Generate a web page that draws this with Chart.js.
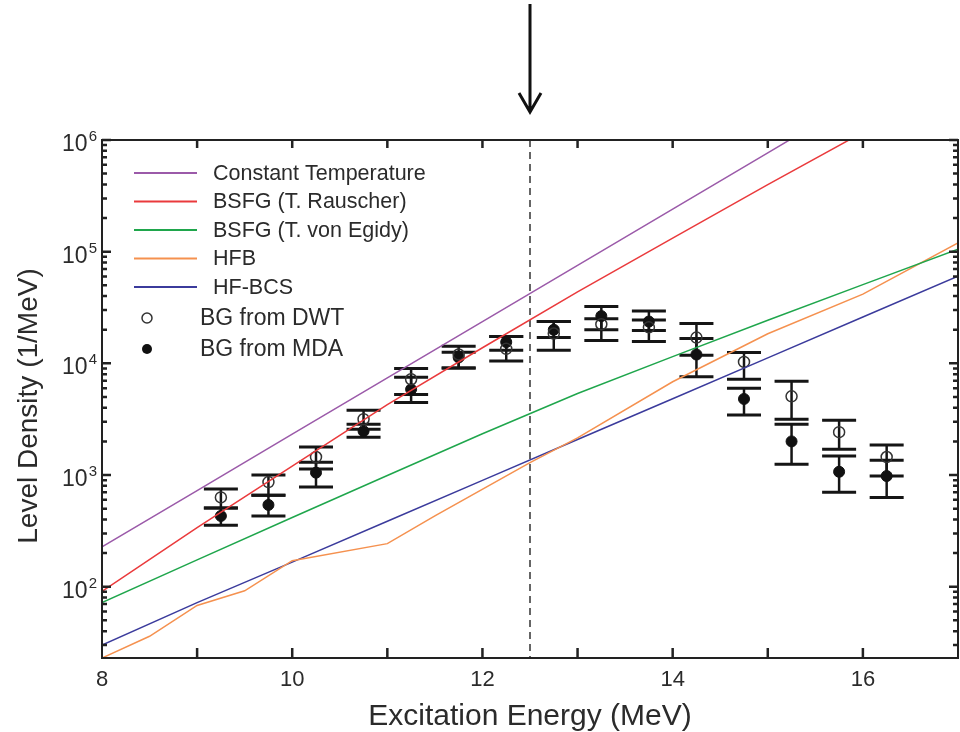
<!DOCTYPE html>
<html>
<head>
<meta charset="utf-8">
<title>Level density</title>
<style>
html, body { margin: 0; padding: 0; background: #fff; }
#wrap { width: 960px; height: 732px; }
</style>
<script src="https://cdn.jsdelivr.net/npm/chart.js@4.4.1/dist/chart.umd.min.js"></script>
</head>
<body>
<div id="wrap"><canvas id="chart-ld" width="960" height="732"></canvas></div>
<script>
// Fonts and colors
const font_family = "'Liberation Sans', Arial, Helvetica, sans-serif"
const color_text = '#2b2b2b'
const color_ct = '#9b5aa9'
const color_rauscher = '#ea3a3c'
const color_egidy = '#1fa64c'
const color_hfb = '#f5914f'
const color_hfbcs = '#3b3b9c'

// Model curves (energy in MeV, level density in 1/MeV)
const model_energy = [8, 9, 10, 11, 12, 13, 14, 15, 16, 17]
const ct_density = [227, 726, 2320, 7400, 23600, 75300, 240000, 767000, 2450000, 7800000]
const rauscher_density = [91, 339, 1200, 4270, 13800, 43600, 132000, 398000, 1170000, 3400000]
const egidy_density = [72, 174, 417, 990, 2340, 5370, 11500, 24300, 50700, 105000]
const hfbcs_density = [30, 72, 166, 386, 895, 2080, 4820, 11200, 26000, 60300]

const hfb_energy = [8, 8.5, 9, 9.5, 10, 11, 11.5, 12.5, 13, 14, 15, 16, 17]
const hfb_density = [23, 36, 68, 92, 171, 243, 430, 1290, 2150, 6840, 18400, 41700, 120000]

// Measured points
const exp_energy = [9.25, 9.75, 10.25, 10.75, 11.25, 11.75, 12.25, 12.75, 13.25, 13.75, 14.25, 14.75, 15.25, 15.75, 16.25]
const dwt = [630, 865, 1450, 3160, 7200, 12000, 13500, 18500, 22400, 21000, 17000, 10300, 5070, 2420, 1450]
const dwt_lo = [507, 660, 1130, 2570, 5250, 9100, 10500, 13100, 16000, 15700, 11800, 7200, 3160, 1700, 980]
const dwt_hi = [750, 1000, 1780, 3800, 9000, 14200, 17400, 23700, 25100, 24500, 22800, 12500, 6900, 3100, 1860]
const mda = [430, 540, 1050, 2470, 5860, 11300, 15500, 20000, 26500, 23700, 12000, 4800, 2000, 1070, 980]
const mda_lo = [355, 430, 780, 2180, 4460, 9100, 13100, 17000, 20000, 19700, 7600, 3440, 1250, 700, 630]
const mda_hi = [507, 660, 1300, 2850, 7500, 12600, 17400, 23700, 32300, 29500, 16700, 6000, 2850, 1480, 1360]

// Axis ticks
const x_ticks = [8, 10, 12, 14, 16]
const y_ticks = [100, 1000, 10000, 100000, 1000000]
const marker_energy = 12.5 // dashed line + arrow

function pairs(xs, ys) {
    return xs.map((x, i) => ({x: x, y: ys[i]}))
}

function curve(label, xs, ys, color) {
    return {
        label: label,
        data: pairs(xs, ys),
        showLine: true,
        borderColor: color,
        backgroundColor: color,
        borderWidth: 1.5,
        pointRadius: 0,
        kind: 'line',
    }
}

const data = {
    datasets: [
        curve('Constant Temperature', model_energy, ct_density, color_ct),
        curve('BSFG (T. Rauscher)', model_energy, rauscher_density, color_rauscher),
        curve('BSFG (T. von Egidy)', model_energy, egidy_density, color_egidy),
        curve('HFB', hfb_energy, hfb_density, color_hfb),
        curve('HF-BCS', model_energy, hfbcs_density, color_hfbcs),
        {
            label: 'BG from DWT',
            data: pairs(exp_energy, dwt),
            err_lo: dwt_lo,
            err_hi: dwt_hi,
            pointRadius: 5.5,
            pointBorderWidth: 1.5,
            borderColor: '#333',
            backgroundColor: 'rgba(255,255,255,0)',
            kind: 'open',
        },
        {
            label: 'BG from MDA',
            data: pairs(exp_energy, mda),
            err_lo: mda_lo,
            err_hi: mda_hi,
            pointRadius: 5.5,
            pointBorderWidth: 1,
            borderColor: '#111',
            backgroundColor: '#111',
            kind: 'filled',
        },
    ]
}

// Error bars, dashed marker line (drawn under the points)
const underlay = {
    id: 'underlay',
    beforeDatasetsDraw(chart) {
        const ctx = chart.ctx
        const xs = chart.scales.x, ys = chart.scales.y
        const area = chart.chartArea
        ctx.save()

        // dashed line
        const xm = xs.getPixelForValue(marker_energy)
        ctx.strokeStyle = '#333'
        ctx.lineWidth = 1.5
        ctx.setLineDash([7, 5])
        ctx.beginPath()
        ctx.moveTo(xm, area.top)
        ctx.lineTo(xm, area.bottom)
        ctx.stroke()
        ctx.setLineDash([])

        // error bars
        ctx.strokeStyle = '#151515'
        chart.data.datasets.forEach(ds => {
            if (!ds.err_lo) return
            ds.data.forEach((p, i) => {
                const x = xs.getPixelForValue(p.x)
                const y1 = ys.getPixelForValue(ds.err_lo[i])
                const y2 = ys.getPixelForValue(ds.err_hi[i])
                ctx.lineWidth = 2.5
                ctx.beginPath()
                ctx.moveTo(x, y1)
                ctx.lineTo(x, y2)
                ctx.stroke()
                ctx.lineWidth = 3
                ctx.beginPath()
                ctx.moveTo(x - 17, y1)
                ctx.lineTo(x + 17, y1)
                ctx.moveTo(x - 17, y2)
                ctx.lineTo(x + 17, y2)
                ctx.stroke()
            })
        })
        ctx.restore()
    }
}

// Frame, inward ticks, y labels, titles, legend and arrow
const overlay = {
    id: 'overlay',
    afterDraw(chart) {
        const ctx = chart.ctx
        const xs = chart.scales.x, ys = chart.scales.y
        const a = chart.chartArea
        ctx.save()

        // frame
        ctx.strokeStyle = '#222'
        ctx.lineWidth = 2
        ctx.strokeRect(a.left, a.top, a.right - a.left, a.bottom - a.top)

        // x ticks (every MeV, bottom and top)
        ctx.lineWidth = 2.5
        ctx.beginPath()
        for (let e = Math.ceil(xs.min) + 1; e < xs.max; e++) {
            const x = xs.getPixelForValue(e)
            ctx.moveTo(x, a.bottom)
            ctx.lineTo(x, a.bottom - 10)
            ctx.moveTo(x, a.top)
            ctx.lineTo(x, a.top + 8)
        }
        ctx.stroke()

        // y ticks (decades long, 2..9 short, left and right)
        ctx.beginPath()
        for (let d = 1; d <= 5; d++) {
            for (let m = 1; m <= 10; m++) {
                const v = m * Math.pow(10, d)
                if (v < ys.min || v > ys.max) continue
                const y = ys.getPixelForValue(v)
                const len = (m === 1 || m === 10) ? 9 : 5
                ctx.moveTo(a.left, y)
                ctx.lineTo(a.left + len, y)
                ctx.moveTo(a.right, y)
                ctx.lineTo(a.right - len, y)
            }
        }
        ctx.stroke()

        // y tick labels 10^n
        ctx.fillStyle = color_text
        ctx.textBaseline = 'alphabetic'
        ctx.textAlign = 'right'
        y_ticks.forEach(v => {
            const y = ys.getPixelForValue(v)
            const ex = String(Math.round(Math.log10(v)))
            ctx.font = '15px ' + font_family
            ctx.fillText(ex, 97, y + 1)
            const w = ctx.measureText(ex).width
            ctx.font = '23px ' + font_family
            ctx.fillText('10', 97 - w - 1, y + 11)
        })

        // axis titles
        ctx.font = '30px ' + font_family
        ctx.textAlign = 'center'
        ctx.fillText('Excitation Energy (MeV)', (a.left + a.right) / 2, 725)
        ctx.font = '28px ' + font_family
        ctx.save()
        ctx.translate(37, 406)
        ctx.rotate(-Math.PI / 2)
        ctx.fillText('Level Density (1/MeV)', 0, 0)
        ctx.restore()

        // legend
        ctx.textAlign = 'left'
        ctx.textBaseline = 'middle'
        let row = 0
        chart.data.datasets.forEach(ds => {
            if (ds.kind === 'line') {
                const y = 173 + row * 28.5
                ctx.strokeStyle = ds.borderColor
                ctx.lineWidth = 2
                ctx.beginPath()
                ctx.moveTo(134, y)
                ctx.lineTo(197, y)
                ctx.stroke()
                ctx.fillStyle = color_text
                ctx.font = '21.5px ' + font_family
                ctx.fillText(ds.label, 213, y + 1)
            } else {
                const y = 318 + (row - 5) * 31
                ctx.beginPath()
                ctx.arc(147, y, 5, 0, Math.PI * 2)
                if (ds.kind === 'filled') {
                    ctx.fillStyle = ds.backgroundColor
                    ctx.fill()
                } else {
                    ctx.strokeStyle = '#333'
                    ctx.lineWidth = 1.5
                    ctx.stroke()
                }
                ctx.fillStyle = color_text
                ctx.font = '23px ' + font_family
                ctx.fillText(ds.label, 200, y + 1)
            }
            row++
        })

        // arrow above the plot
        const xm = xs.getPixelForValue(marker_energy)
        ctx.strokeStyle = '#111'
        ctx.lineWidth = 3
        ctx.beginPath()
        ctx.moveTo(xm, 4)
        ctx.lineTo(xm, 111)
        ctx.moveTo(xm - 11, 93)
        ctx.lineTo(xm, 112)
        ctx.lineTo(xm + 11, 93)
        ctx.stroke()

        ctx.restore()
    }
}

const config = {
    type: 'scatter',
    data: data,
    options: {
        responsive: false,
        animation: false,
        layout: {
            autoPadding: false,
            padding: {top: 140, right: 2, left: 0, bottom: 0},
        },
        plugins: {
            legend: {display: false},
            tooltip: {enabled: false},
        },
        scales: {
            x: {
                type: 'linear',
                min: 8,
                max: 17,
                grid: {display: false, drawTicks: false},
                border: {display: false},
                afterBuildTicks: s => { s.ticks = x_ticks.map(v => ({value: v})) },
                afterFit: s => { s.height = 74 },
                ticks: {
                    font: {family: font_family, size: 22},
                    color: color_text,
                    padding: 9,
                    maxRotation: 0,
                    autoSkip: false,
                },
            },
            y: {
                type: 'logarithmic',
                min: 23,
                max: 1000000,
                grid: {display: false, drawTicks: false},
                border: {display: false},
                afterBuildTicks: s => { s.ticks = y_ticks.map(v => ({value: v})) },
                afterFit: s => { s.width = 102 },
                ticks: {display: false},
            },
        },
    },
    plugins: [underlay, overlay],
}

const chart = new Chart(document.getElementById('chart-ld').getContext('2d'), config)
</script>
</body>
</html>
